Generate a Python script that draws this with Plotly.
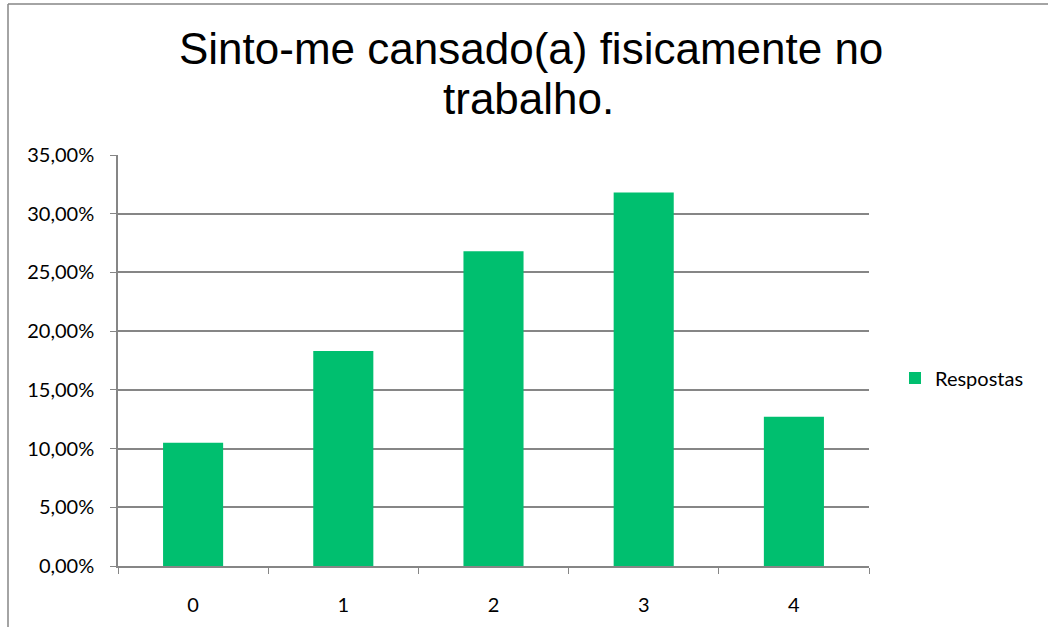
import plotly.graph_objects as go

categories = ["0", "1", "2", "3", "4"]
respostas = [0.105, 0.183, 0.268, 0.318, 0.127]
y_ticks = [0, 0.05, 0.10, 0.15, 0.20, 0.25, 0.30, 0.35]
title_lines = ["Sinto-me cansado(a) fisicamente no", "trabalho."]

W, H = 1048, 627
ML, MR, MT, MB = 118, 179, 155, 61
pw, ph = W - ML - MR, H - MT - MB


def px_x(px):
    return (px - ML) / pw


def px_y(py):
    return (MT + ph - py) / ph


fig = go.Figure()
fig.add_trace(go.Bar(
    x=categories, y=respostas, name="Respostas",
    marker=dict(color="#00BF6F", line=dict(width=0)),
    width=0.4,
))

tick_font = dict(family="Lato, Open Sans, sans-serif", size=20, color="#000000")
title_font = dict(family="Liberation Sans, Arial, sans-serif", size=44, color="#000000")

# two-line title with tight line spacing
annotations = [
    dict(text=title_lines[0], xref="paper", yref="paper",
         x=px_x(531), y=px_y(48), xanchor="center", yanchor="middle",
         showarrow=False, font=title_font),
    dict(text=title_lines[1], xref="paper", yref="paper",
         x=px_x(528), y=px_y(99), xanchor="center", yanchor="middle",
         showarrow=False, font=title_font),
]

fig.update_layout(
    width=W, height=H,
    margin=dict(l=ML, r=MR, t=MT, b=MB, pad=0),
    paper_bgcolor="white", plot_bgcolor="white",
    separators=", ",
    showlegend=True,
    annotations=annotations,
    legend=dict(
        x=px_x(895), xanchor="left",
        y=px_y(378), yanchor="middle",
        font=tick_font, bgcolor="rgba(0,0,0,0)",
        itemwidth=30,
    ),
    xaxis=dict(
        type="category", automargin=False,
        showline=True, linecolor="#868686", linewidth=1.5,
        ticks="outside", tickson="boundaries", ticklen=6, tickcolor="#868686",
        showgrid=False, tickfont=tick_font, ticklabelstandoff=20,
    ),
    yaxis=dict(
        range=[0, 0.35], tickvals=y_ticks, tickformat=".2%", automargin=False,
        showline=True, linecolor="#868686", linewidth=1.5,
        ticks="outside", ticklen=6, tickcolor="#868686",
        showgrid=True, gridcolor="#868686", gridwidth=1.5,
        zeroline=False, tickfont=tick_font, ticklabelstandoff=12,
    ),
    shapes=[
        dict(type="line", xref="paper", yref="paper",
             x0=px_x(8), x1=px_x(8), y0=px_y(4), y1=px_y(H + 5),
             line=dict(color="#868686", width=1.5)),
        dict(type="line", xref="paper", yref="paper",
             x0=px_x(8), x1=px_x(W + 5), y0=px_y(4), y1=px_y(4),
             line=dict(color="#868686", width=1.5)),
    ],
)

fig.write_html("out.html")
